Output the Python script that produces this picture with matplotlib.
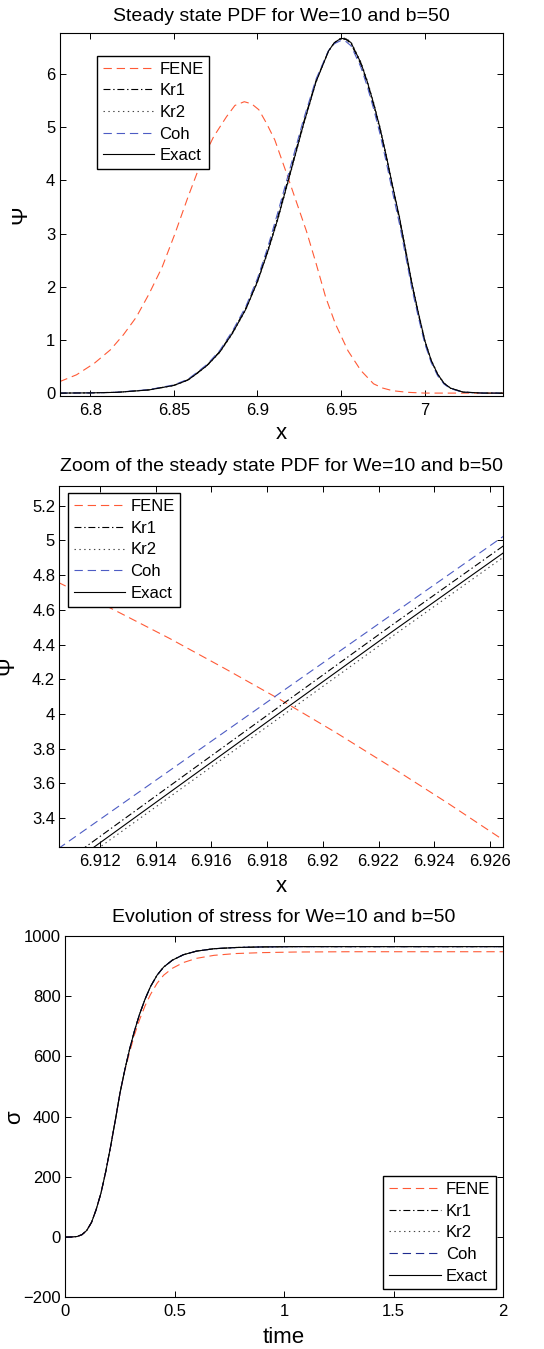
import matplotlib
matplotlib.use("Agg")
import matplotlib.pyplot as plt
from matplotlib.ticker import FormatStrFormatter
import numpy as np

plt.rcParams['font.family'] = ['Liberation Sans', 'DejaVu Sans']
plt.rcParams['lines.scale_dashes'] = False

# ---- panel 1 : steady state PDF ----
pdf_x = [6.7815, 6.800, 6.816, 6.835, 6.850, 6.8583, 6.864, 6.870, 6.8775, 6.885,
         6.893, 6.900, 6.906, 6.912, 6.9195, 6.9275, 6.935, 6.9425, 6.946, 6.950,
         6.953, 6.956, 6.9619, 6.9657, 6.9695, 6.9734, 6.9772, 6.981, 6.9849, 6.9887,
         6.9925, 6.9964, 7.0002, 7.004, 7.0079, 7.0117, 7.0155, 7.023, 7.035, 7.047]
pdf_exact = [0.006, 0.01, 0.02, 0.065, 0.15, 0.25, 0.38, 0.53, 0.78, 1.13,
             1.58, 2.1, 2.65, 3.26, 4.12, 5.05, 5.85, 6.43, 6.59, 6.67,
             6.66, 6.59, 6.21, 5.86, 5.45, 4.98, 4.45, 3.88, 3.32, 2.69,
             2.06, 1.5, 0.99, 0.62, 0.36, 0.19, 0.10, 0.025, 0.006, 0.005]
pdf_kr1 = [0.006, 0.01, 0.021, 0.067, 0.153, 0.255, 0.387, 0.535, 0.79, 1.144,
           1.6, 2.12, 2.68, 3.30, 4.16, 5.08, 5.87, 6.43, 6.58, 6.66,
           6.65, 6.57, 6.18, 5.83, 5.41, 4.94, 4.41, 3.84, 3.28, 2.65,
           2.03, 1.47, 0.97, 0.61, 0.35, 0.185, 0.097, 0.024, 0.006, 0.005]
pdf_kr2 = [0.006, 0.01, 0.02, 0.064, 0.148, 0.247, 0.376, 0.524, 0.77, 1.12,
           1.57, 2.09, 2.63, 3.24, 4.10, 5.03, 5.84, 6.43, 6.59, 6.68,
           6.67, 6.60, 6.23, 5.88, 5.47, 5.0, 4.47, 3.90, 3.34, 2.71,
           2.08, 1.52, 1.0, 0.63, 0.366, 0.193, 0.102, 0.026, 0.006, 0.005]
pdf_coh = [0.006, 0.01, 0.022, 0.07, 0.16, 0.265, 0.40, 0.55, 0.81, 1.17,
           1.63, 2.16, 2.73, 3.38, 4.23, 5.14, 5.90, 6.44, 6.57, 6.63,
           6.61, 6.53, 6.13, 5.77, 5.35, 4.87, 4.33, 3.76, 3.2, 2.58,
           1.96, 1.42, 0.93, 0.58, 0.33, 0.175, 0.09, 0.022, 0.006, 0.005]
fene_x = [6.7815, 6.7917, 6.8023, 6.812, 6.8197, 6.8274, 6.8351, 6.8429, 6.8506,
          6.8583, 6.866, 6.8737, 6.8815, 6.8865, 6.8921, 6.8965, 6.9008, 6.9055,
          6.9104, 6.9178, 6.9236, 6.9293, 6.9351, 6.9408, 6.9466, 6.9542, 6.9619,
          6.9695, 6.975, 6.981, 6.99, 7.0, 7.047]
pdf_fene = [0.22, 0.35, 0.565, 0.82, 1.1, 1.43, 1.87, 2.37, 3.0,
            3.68, 4.32, 4.82, 5.2, 5.41, 5.48, 5.44, 5.33, 5.07,
            4.76, 4.1, 3.57, 3.05, 2.44, 1.81, 1.31, 0.80, 0.43,
            0.18, 0.1, 0.05, 0.02, 0.006, 0.005]

# ---- panel 2 : zoom ----
zoom_fene_x = [6.9105, 6.9125, 6.9145, 6.9165, 6.9185, 6.9205, 6.9225, 6.9245, 6.9265]
zoom_fene = [4.758, 4.60, 4.435, 4.26, 4.08, 3.89, 3.69, 3.485, 3.272]
zoom_x = [6.9105, 6.9145, 6.9185, 6.9225, 6.9265]
zoom_kr1 = [3.12, 3.585, 4.05, 4.514, 4.97]
zoom_kr2 = [3.06, 3.522, 3.985, 4.448, 4.905]
zoom_coh = [3.224, 3.674, 4.125, 4.575, 5.025]
zoom_exact = [3.084, 3.548, 4.012, 4.475, 4.93]

# ---- panel 3 : stress evolution ----
time = [0, 0.03, 0.055, 0.077, 0.099, 0.121, 0.142, 0.164, 0.186, 0.208,
        0.23, 0.251, 0.273, 0.295, 0.317, 0.34, 0.365, 0.39, 0.42, 0.45,
        0.49, 0.54, 0.6, 0.68, 0.78, 0.9, 1.05, 1.3, 1.6, 2.0]
stress_exact = [0, 0.5, 2, 8, 22, 49, 91, 146, 218, 301,
                390, 479, 556, 625, 685, 740, 790, 832, 870, 897,
                920, 938, 950, 958, 962, 964, 965, 965, 965, 965]
stress_kr1 = [0, 0.5, 2, 8, 22, 49, 91, 146, 218, 301,
              390, 479, 556, 625, 685, 740, 790, 832, 870, 897,
              920, 938, 950, 958, 962, 964, 965, 965, 965, 965]
stress_kr2 = [0, 0.5, 2, 8, 22, 49, 91, 146, 218, 301,
              390, 479, 556, 625, 685, 740, 790, 832, 870, 897,
              920, 938, 950, 958, 962, 964, 965, 965, 965, 965]
stress_coh = [0, 0.5, 2, 8, 22, 49, 91, 146, 218, 301,
              390, 479, 556, 625, 685, 740, 790, 832, 870, 897,
              920, 938, 950, 958, 962, 964, 965, 965, 965, 965]
stress_fene = [0, 0.5, 2, 8, 22, 49, 91, 146, 218, 301,
               390, 479, 553, 615, 672, 722, 768, 806, 843, 870,
               893, 912, 926, 936, 942, 945, 947, 948, 948, 948]

labels = ['FENE', 'Kr1', 'Kr2', 'Coh', 'Exact']

FENE_C = '#ff5a36'
COH_C = '#4d5cc4'
COH_C3 = '#1f2b8f'
LW = 0.8
DASH = (6, 3.5)
DASHDOT = (0, (5, 2, 1, 2))
DOT = (0, (1, 2.5))


def style_axes(ax):
    ax.tick_params(direction='in', top=True, right=True, length=4, width=0.7,
                   labelsize=12)
    ax.tick_params(axis='x', pad=5)
    ax.tick_params(axis='y', pad=3)
    for s in ax.spines.values():
        s.set_linewidth(0.8)


def add_legend(ax, loc, anchor):
    leg = ax.legend(labels, loc=loc, bbox_to_anchor=anchor, borderaxespad=0,
                    fontsize=12, fancybox=False, framealpha=1, edgecolor='black',
                    handlelength=3.1, handletextpad=0.3, labelspacing=0.4,
                    borderpad=0.35)
    leg.get_frame().set_linewidth(1.0)


fig = plt.figure(figsize=(5.44, 13.49), dpi=100)

# panel 1
ax1 = fig.add_axes([0.1094, 0.7064, 0.8153, 0.2691])
ax1.plot(fene_x, pdf_fene, color=FENE_C, lw=LW, dashes=DASH)
ax1.plot(pdf_x, pdf_kr1, color='black', lw=LW, linestyle=DASHDOT)
ax1.plot(pdf_x, pdf_kr2, color='#444444', lw=LW, linestyle=DOT)
ax1.plot(pdf_x, pdf_coh, color=COH_C, lw=LW, dashes=DASH)
ax1.plot(pdf_x, pdf_exact, color='black', lw=LW)
ax1.set_xlim(6.7815, 7.047)
ax1.set_ylim(-0.05, 6.77)
ax1.set_xticks([6.8, 6.85, 6.9, 6.95, 7.0])
ax1.set_yticks([0, 1, 2, 3, 4, 5, 6])
ax1.xaxis.set_major_formatter(FormatStrFormatter('%g'))
style_axes(ax1)
ax1.set_title('Steady state PDF for We=10 and b=50', fontsize=14, pad=9)
ax1.set_xlabel('x', fontsize=16)
ax1.set_ylabel('Ψ', fontsize=16)
ax1.xaxis.set_label_coords(0.5, -0.075)
ax1.yaxis.set_label_coords(-0.063, 0.5)
add_legend(ax1, 'upper left', (0.084, 0.9375))

# panel 2
ax2 = fig.add_axes([0.109, 0.3724, 0.8162, 0.2676])
ax2.plot(zoom_fene_x, zoom_fene, color=FENE_C, lw=LW, dashes=DASH)
ax2.plot(zoom_x, zoom_kr1, color='black', lw=LW, linestyle=DASHDOT)
ax2.plot(zoom_x, zoom_kr2, color='#444444', lw=LW, linestyle=DOT)
ax2.plot(zoom_x, zoom_coh, color=COH_C, lw=LW, dashes=DASH)
ax2.plot(zoom_x, zoom_exact, color='black', lw=LW)
ax2.set_xlim(6.91054, 6.92648)
ax2.set_ylim(3.236, 5.315)
ax2.set_xticks(np.round(np.arange(6.912, 6.9261, 0.002), 3))
ax2.set_yticks(np.round(np.arange(3.4, 5.21, 0.2), 1))
ax2.xaxis.set_major_formatter(FormatStrFormatter('%g'))
ax2.yaxis.set_major_formatter(FormatStrFormatter('%g'))
style_axes(ax2)
ax2.set_title('Zoom of the steady state PDF for We=10 and b=50', fontsize=14, pad=10.5)
ax2.set_xlabel('x', fontsize=16)
ax2.set_ylabel('Ψ', fontsize=16)
ax2.xaxis.set_label_coords(0.5, -0.082)
ax2.yaxis.set_label_coords(-0.092, 0.5)
add_legend(ax2, 'upper left', (0.019, 0.979))

# panel 3
ax3 = fig.add_axes([0.1195, 0.0383, 0.8057, 0.2678])
ax3.plot(time, stress_fene, color=FENE_C, lw=LW, dashes=DASH)
ax3.plot(time, stress_kr1, color='black', lw=LW, linestyle=DASHDOT)
ax3.plot(time, stress_kr2, color='#444444', lw=LW, linestyle=DOT)
ax3.plot(time, stress_coh, color=COH_C3, lw=LW, dashes=DASH)
ax3.plot(time, stress_exact, color='black', lw=LW)
ax3.set_xlim(0, 2)
ax3.set_ylim(-200, 1000)
ax3.set_xticks([0, 0.5, 1, 1.5, 2])
ax3.set_yticks([-200, 0, 200, 400, 600, 800, 1000])
ax3.xaxis.set_major_formatter(FormatStrFormatter('%g'))
style_axes(ax3)
ax3.set_title('Evolution of stress for We=10 and b=50', fontsize=14, pad=10.3)
ax3.set_xlabel('time', fontsize=16)
ax3.set_ylabel('σ', fontsize=16)
ax3.xaxis.set_label_coords(0.5, -0.082)
ax3.yaxis.set_label_coords(-0.09, 0.5)
add_legend(ax3, 'lower right', (0.983, 0.022))

fig.savefig('out.png', dpi=100)
